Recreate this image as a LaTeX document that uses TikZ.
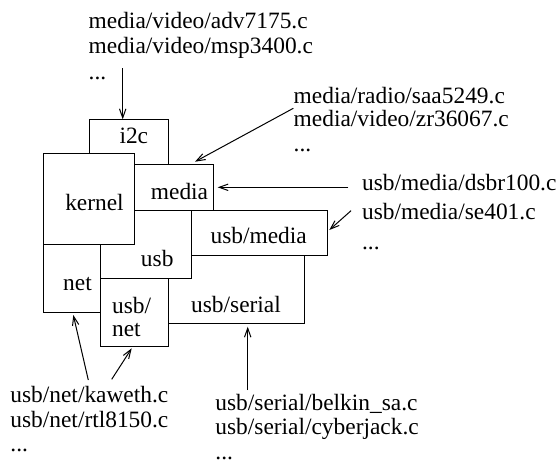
\documentclass[tikz,border=0pt]{standalone}
\usepackage{fontspec}
\setmainfont{Liberation Serif}
\usetikzlibrary{arrows.meta}
\begin{document}
\begin{tikzpicture}[x=0.5pt,y=-0.5pt,
  boxline/.style={draw=black,fill=white,line width=0.5pt},
  lbl/.style={inner sep=0pt,font=\fontsize{11.7}{12.3}\selectfont},
  blk/.style={inner sep=0pt,align=left,anchor=base west,font=\fontsize{11.7}{12.3}\selectfont},
  arr/.style={line width=0.5pt,-{Straight Barb[length=4.5pt,width=3.2pt,line width=0.5pt]}}]
\useasboundingbox (0,0) rectangle (560,463);
% boxes, back to front
\path[boxline] (160,240) rectangle (304.7,323.3);   % usb/serial
\path[boxline] (100.3,200) rectangle (191,278.3);   % usb
\path[boxline] (100.3,278.3) rectangle (168.3,346); % usb/net
\path[boxline] (43.3,244) rectangle (100.3,312);    % net
\path[boxline] (191,210) rectangle (327.7,255);     % usb/media
\path[boxline] (89,119.3) rectangle (168.3,180);    % i2c
\path[boxline] (120,164.3) rectangle (213.7,210);   % media
\path[boxline] (43.3,153.3) rectangle (134.3,244);  % kernel
% box labels
\node[lbl,anchor=base] (li2c) at (133.8,143.3) {i2c};
\node[lbl,anchor=base] (lkernel) at (94.5,210) {kernel};
\node[lbl,anchor=base] (lmedia) at (179.5,199) {media};
\node[lbl,anchor=base] (lusbmedia) at (258.7,243.3) {usb/media};
\node[lbl,anchor=base] (lusb) at (157.2,266.7) {usb};
\node[lbl,anchor=base] (lnet) at (77.5,290) {net};
\node[blk] (lusbnet) at (111.7,336.7) {usb/\\[-0.6pt]net};
\node[lbl,anchor=base] (lusbserial) at (236,312.7) {usb/serial};
% outside texts (anchored at the baseline of the last line)
\node[blk] (ta) at (88.3,79.3) {media/video/adv7175.c\\media/video/msp3400.c\\[0.6pt]...};
\node[blk] (tb) at (293.3,151) {media/radio/saa5249.c\\[-0.6pt]media/video/zr36067.c\\...};
\node[blk] (tc) at (361.7,190.5) {usb/media/dsbr100.c};
\node[blk] (td) at (361.7,249) {usb/media/se401.c\\[2.5pt]...};
\node[blk] (te) at (10,451.7) {usb/net/kaweth.c\\usb/net/rtl8150.c\\...};
\node[blk] (tf) at (215,459.5) {usb/serial/belkin\_sa.c\\[-0.6pt]usb/serial/cyberjack.c\\[0.3pt]...};
% connector ends
\coordinate (a0) at (122.7,68);   \coordinate (a1) at (122.7,119.3);
\coordinate (b0) at (293.3,108.3);\coordinate (b1) at (195,161.7);
\coordinate (c0) at (348.3,187.3);\coordinate (c1) at (217.7,187.3);
\coordinate (d0) at (351,210.7);  \coordinate (d1) at (329.3,230);
\coordinate (e0) at (88.3,380);   \coordinate (e1) at (73.3,315);
\coordinate (f0) at (111.7,379.3);\coordinate (f1) at (131.7,348.3);
\coordinate (g0) at (247.7,390);  \coordinate (g1) at (247.7,326.7);
\draw[arr] (a0) -- (a1);
\draw[arr] (b0) -- (b1);
\draw[arr] (c0) -- (c1);
\draw[arr] (d0) -- (d1);
\draw[arr] (e0) -- (e1);
\draw[arr] (f0) -- (f1);
\draw[arr] (g0) -- (g1);
\end{tikzpicture}
\end{document}
